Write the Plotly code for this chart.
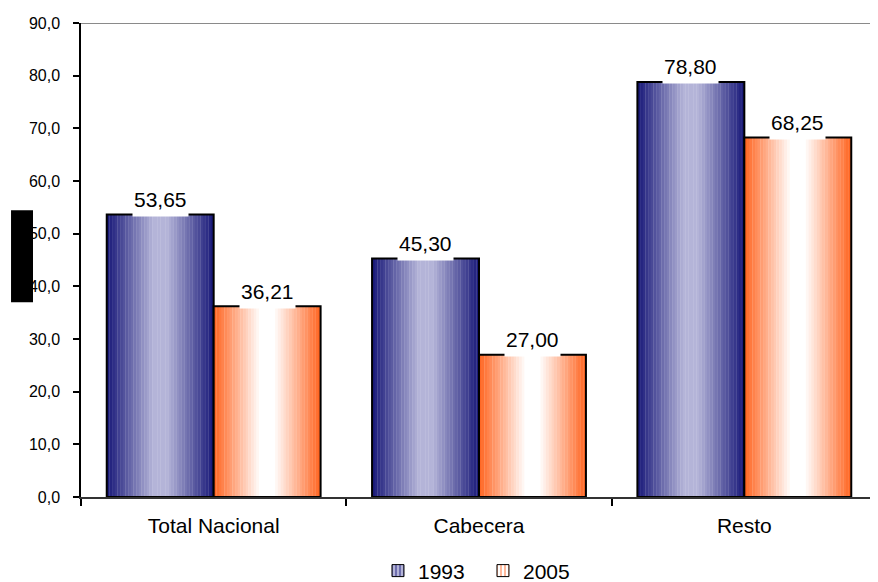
import plotly.graph_objects as go


# ─── Data ─────────────────────────────────────────────────────────────────────
categories  = ["Total Nacional", "Cabecera", "Resto"]
years       = ["1993", "2005"]
values_1993 = [53.65, 45.30, 78.80]
values_2005 = [36.21, 27.00, 68.25]
y_ticks     = [0, 10, 20, 30, 40, 50, 60, 70, 80, 90]

# ─── Style ────────────────────────────────────────────────────────────────────
FONT      = "Arial, 'Liberation Sans', sans-serif"
BAR_W     = 0.403          # bar width in category units
N_STRIPS  = 40             # strips used to fake the horizontal gradient
NAVY      = (24, 24, 120)
LAVENDER  = (180, 180, 216)
ORANGE    = (255, 98, 30)
WHITE     = (255, 255, 255)


def strip_color(edge, mid, u):
    # u in [0,1] across the bar; dark at the edges, light in the middle
    t = 1 - abs(2 * u - 1)
    f = min(1.0, t * 1.15)
    r, g, b = (round(e + (m - e) * f) for e, m in zip(edge, mid))
    return f"rgb({r},{g},{b})"


def fmt(v):
    return f"{v:.2f}".replace(".", ",")


series = [
    (years[0], values_1993, NAVY, LAVENDER, -BAR_W),
    (years[1], values_2005, ORANGE, WHITE, 0.0),
]

fig = go.Figure()

# gradient strips + outline for each series
for name, vals, edge, mid, base in series:
    step = BAR_W / N_STRIPS
    for i in range(N_STRIPS):
        fig.add_trace(go.Bar(
            x=categories, y=vals,
            width=step * 1.1, offset=base + i * step,
            marker=dict(color=strip_color(edge, mid, (i + 0.5) / N_STRIPS),
                        line=dict(width=0)),
            showlegend=False, hoverinfo="skip",
        ))
    fig.add_trace(go.Bar(
        x=categories, y=vals,
        width=BAR_W, offset=base,
        marker=dict(color="rgba(0,0,0,0)", line=dict(color="black", width=2)),
        showlegend=False, name=name,
        hovertemplate="%{x}<br>" + name + ": %{y:.2f}<extra></extra>",
    ))

# legend entries (striped swatches)
for name, vals, edge, mid, base in series:
    fig.add_trace(go.Bar(
        x=[categories[0]], y=[0], width=BAR_W, offset=base,
        name=name, showlegend=True, hoverinfo="skip",
        marker=dict(
            color="rgb(%d,%d,%d)" % mid,
            pattern=dict(shape="|", fgcolor="rgb(%d,%d,%d)" % edge,
                         bgcolor="rgb(%d,%d,%d)" % mid, size=5, solidity=0.45),
            line=dict(color="black", width=1),
        ),
    ))

# data labels with white boxes (they cover the top edge of the bar)
for s, (name, vals, edge, mid, base) in enumerate(series):
    for i, v in enumerate(vals):
        fig.add_annotation(
            x=i + base + BAR_W / 2, y=v, xref="x", yref="y",
            text=fmt(v), showarrow=False,
            yanchor="middle", yshift=15, height=31,
            bgcolor="white", borderpad=1,
            font=dict(family=FONT, size=21, color="black"),
        )

# top border line at 90 and the masked axis title block
fig.add_shape(type="line", xref="paper", yref="y", x0=0, x1=1, y0=90, y1=90,
              line=dict(color="#8a8a8a", width=2), layer="below")
fig.add_shape(type="rect", xref="paper", yref="paper",
              x0=-0.0879, x1=-0.0603, y0=0.411, y1=0.605,
              fillcolor="black", line=dict(width=0))

# the page body adds an 8px offset, so the figure is 8px smaller
fig.update_layout(
    width=870, height=574,
    margin=dict(l=73, r=1, t=15, b=85, autoexpand=False),
    paper_bgcolor="white", plot_bgcolor="white",
    font=dict(family=FONT, color="black", size=16),
    barmode="overlay",
    separators=",.",
    legend=dict(orientation="h", x=0.505, xanchor="center",
                y=-0.156, yanchor="middle",
                font=dict(family=FONT, size=21), itemwidth=30,
                entrywidth=60,
                bgcolor="rgba(0,0,0,0)"),
    xaxis=dict(
        range=[-0.5, 2.5], showgrid=False, zeroline=False, automargin=False,
        showline=True, linecolor="#333333", linewidth=2,
        ticks="outside", tickson="boundaries", ticklen=7,
        tickcolor="black", tickwidth=1.5,
        tickfont=dict(family=FONT, size=21), ticklabelstandoff=9,
    ),
    yaxis=dict(
        range=[0, 90], tickvals=y_ticks, tickformat=".1f", automargin=False,
        showgrid=False, zeroline=False,
        showline=True, linecolor="black", linewidth=1.5,
        ticks="outside", ticklen=6, tickcolor="black", tickwidth=1.5,
        tickfont=dict(family=FONT, size=16), ticklabelstandoff=10,
    ),
)

fig.write_html("out.html")
